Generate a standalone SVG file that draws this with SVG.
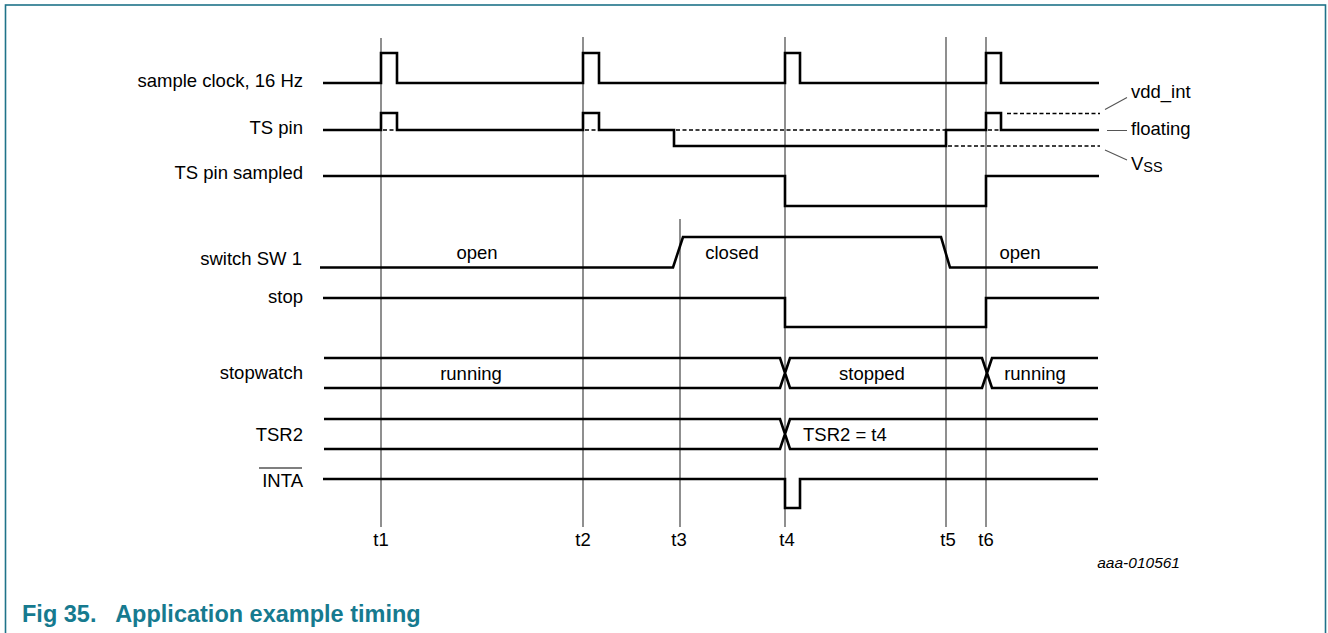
<svg xmlns="http://www.w3.org/2000/svg" width="1328" height="633" viewBox="0 0 1328 633">
<style>
text{font-family:"Liberation Sans",Arial,sans-serif;font-size:18.5px;fill:#000}
.lbl{text-anchor:end}
.mid{text-anchor:middle}
.sig{fill:none;stroke:#000;stroke-width:2.6;stroke-linejoin:miter}
.dash{fill:none;stroke:#000;stroke-width:1.4;stroke-dasharray:4 2.5}
.tm{stroke:#333;stroke-width:1.1}
.lead{stroke:#555;stroke-width:1.1;fill:none}
</style>
<rect x="5.5" y="5" width="1320" height="660" fill="#fff" stroke="#1f7389" stroke-width="1.6"/>

<g id="connectors">
  <line class="tm" x1="381" y1="38" x2="381" y2="527"/>
  <line class="tm" x1="583" y1="37" x2="583" y2="527"/>
  <line class="tm" x1="680" y1="219" x2="680" y2="527"/>
  <line class="tm" x1="785" y1="37" x2="785" y2="527"/>
  <line class="tm" x1="946" y1="37" x2="946" y2="527"/>
  <line class="tm" x1="986" y1="37" x2="986" y2="527"/>
</g>

<g id="time-labels">
  <text class="mid" x="381" y="546">t1</text>
  <text class="mid" x="583" y="546">t2</text>
  <text class="mid" x="679" y="546">t3</text>
  <text class="mid" x="787" y="546">t4</text>
  <text class="mid" x="948" y="546">t5</text>
  <text class="mid" x="986" y="546">t6</text>
</g>

<g id="sample-clock">
  <text class="lbl" x="303" y="87">sample clock, 16 Hz</text>
  <path class="sig" d="M323 83H381V53H397V83H583V53H599V83H785V53H800V83H986V53H1001V83H1099"/>
</g>

<g id="ts-pin">
  <text class="lbl" x="303" y="134">TS pin</text>
  <path class="sig" d="M323 130H381V113H397V130H583V113H599V130H674V146H946V130H986V113H1001V130H1099"/>
  <path class="dash" d="M383 130H396M585 130H598M676 130H945M988 130H1000M1007 113.5H1100M948 146H1100"/>
  <path class="lead" d="M1105 109.5L1127 97.5M1107 130.5H1127M1105 150L1127 160"/>
  <text x="1131" y="98">vdd_int</text>
  <text x="1131" y="135">floating</text>
  <text x="1131" y="170">V<tspan font-size="14.5" dy="2">SS</tspan></text>
</g>

<g id="ts-pin-sampled">
  <text class="lbl" x="303" y="179">TS pin sampled</text>
  <path class="sig" d="M323 176H785V206H986V176H1099"/>
</g>

<g id="switch-sw1">
  <text class="lbl" x="302" y="265">switch SW 1</text>
  <path class="sig" d="M320 267.5H673L683 237H941L950 267.5H1098"/>
  <text class="mid" x="477" y="259">open</text>
  <text class="mid" x="732" y="259">closed</text>
  <text class="mid" x="1020" y="259">open</text>
</g>

<g id="stop">
  <text class="lbl" x="303" y="303">stop</text>
  <path class="sig" d="M323 298H785V327H986V298H1099"/>
</g>

<g id="stopwatch">
  <text class="lbl" x="303" y="379">stopwatch</text>
  <path class="sig" d="M324 358H780L790 388H982L992 358H1098M324 388H780L790 358H982L992 388H1098"/>
  <text class="mid" x="471" y="380">running</text>
  <text class="mid" x="872" y="380">stopped</text>
  <text class="mid" x="1035" y="380">running</text>
</g>

<g id="tsr2">
  <text class="lbl" x="303" y="441">TSR2</text>
  <path class="sig" d="M324 419H780L790 449H1098M324 449H780L790 419H1098"/>
  <text x="803" y="441">TSR2 = t4</text>
</g>

<g id="inta">
  <text class="lbl" x="303" y="487">INTA</text>
  <line x1="259" y1="468" x2="302" y2="468" stroke="#000" stroke-width="1.2"/>
  <path class="sig" d="M323 479H785V508H800V479H1098"/>
</g>

<text x="1180" y="568" text-anchor="end" font-style="italic" style="font-size:15.5px">aaa-010561</text>
<text x="22" y="622" style="font-size:23.5px;font-weight:bold;fill:#167a8f" xml:space="preserve">Fig 35.   Application example timing</text>
</svg>
